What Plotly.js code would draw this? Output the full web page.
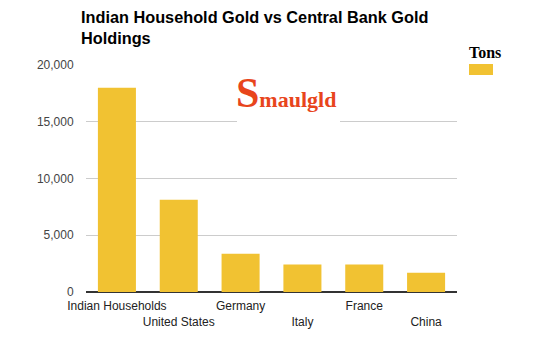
<!DOCTYPE html>
<html>
<head>
<meta charset="utf-8">
<script src="https://cdn.plot.ly/plotly-3.0.1.min.js"></script>
<style>html,body{margin:0;padding:0;background:#fff;}#chart{width:556px;height:351px;}</style>
</head>
<body>
<div id="chart"></div>
<script>
var categories = ["Indian Households", "United States", "Germany", "Italy", "France", "China"];
var tons = [18000, 8133, 3380, 2430, 2430, 1700];
var tickValues = [0, 5000, 10000, 15000, 20000];
var tickLabels = ["0", "5,000", "10,000", "15,000", "20,000"];
var seriesName = "Tons";
var chartTitle = "Indian Household Gold vs Central Bank Gold<br>Holdings";

var xTickText = categories.map(function (c, i) { return i % 2 === 1 ? "<br>" + c : c; });
var barColor = "#f1c232";

var trace = {
  type: "bar",
  x: categories,
  y: tons,
  name: seriesName,
  marker: { color: barColor },
  showlegend: false,
  hoverinfo: "x+y"
};

var layout = {
  width: 556,
  height: 351,
  margin: { l: 86, r: 99, t: 65, b: 59, pad: 0 },
  paper_bgcolor: "#fff",
  plot_bgcolor: "#fff",
  bargap: 0.385,
  font: { family: "Liberation Sans, Arial, sans-serif", size: 12, color: "#222" },
  title: {
    text: chartTitle,
    font: { family: "Liberation Sans, Arial, sans-serif", size: 16.3, color: "#000", weight: "bold" },
    xref: "container", yref: "container",
    x: 81 / 556, xanchor: "left",
    y: 1 - 23 / 351, yanchor: "top",
    pad: { t: 0, b: 0, l: 0, r: 0 }
  },
  xaxis: {
    type: "category",
    tickmode: "array",
    tickvals: categories,
    ticktext: xTickText,
    tickangle: 0,
    showgrid: false,
    showline: false,
    zeroline: false,
    ticks: "outside",
    ticklen: 3,
    tickcolor: "rgba(0,0,0,0)",
    tickfont: { size: 12, color: "#222" },
    automargin: false,
    fixedrange: true
  },
  yaxis: {
    range: [0, 20000],
    tickmode: "array",
    tickvals: tickValues,
    ticktext: tickLabels,
    showgrid: true,
    gridcolor: "#cccccc",
    gridwidth: 1,
    zeroline: true,
    zerolinecolor: "#333",
    zerolinewidth: 2,
    showline: false,
    ticks: "outside",
    ticklen: 9,
    tickcolor: "#fff",
    tickfont: { size: 12, color: "#444" },
    automargin: false,
    fixedrange: true
  },
  shapes: [
    { type: "rect", xref: "paper", yref: "paper", x0: (237 - 86) / 371, x1: (340 - 86) / 371,
      y0: (292 - 123) / 227, y1: (292 - 74) / 227, fillcolor: "#fff", line: { width: 0 }, layer: "above" },
    { type: "rect", xref: "paper", yref: "paper", x0: (469 - 86) / 371, x1: (493 - 86) / 371,
      y0: (292 - 75) / 227, y1: (292 - 64) / 227, fillcolor: barColor, line: { width: 0 }, layer: "above" }
  ],
  annotations: [
    { xref: "paper", yref: "paper", x: (469 - 86) / 371, y: (292 - 42) / 227, xanchor: "left", yanchor: "top",
      text: "<b>" + seriesName + "</b>", showarrow: false, xshift: -2,
      font: { family: "Liberation Serif, Times New Roman, serif", size: 16, color: "#000" } },
    { xref: "paper", yref: "paper", x: (286 - 86) / 371, y: (292 - 93) / 227, xanchor: "center", yanchor: "middle",
      text: "<span style=\"font-size:42px\">S</span>maulgld", showarrow: false,
      font: { family: "Liberation Serif, Times New Roman, serif", size: 22, color: "#e8451c", weight: "bold" } }
  ]
};

Plotly.newPlot("chart", [trace], layout, { displayModeBar: false, staticPlot: true });
</script>
</body>
</html>
